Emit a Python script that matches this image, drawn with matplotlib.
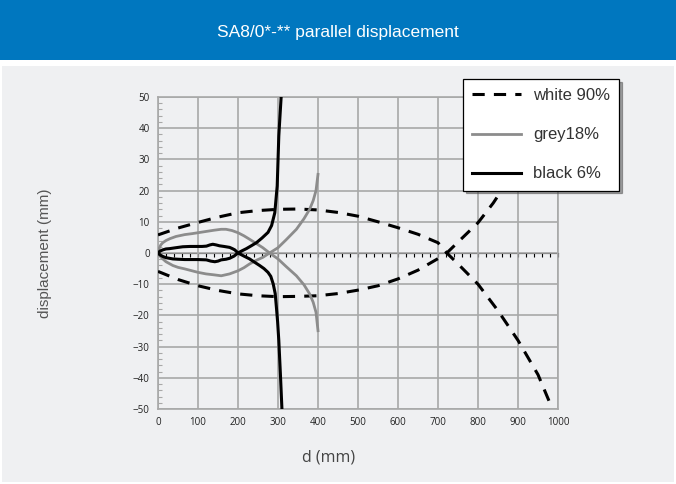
import matplotlib
matplotlib.use("Agg")
import matplotlib.pyplot as plt
from matplotlib.patches import Rectangle
from matplotlib.ticker import MultipleLocator, NullFormatter

# ---- data ----
white_d_up = [0, 50, 100, 150, 200, 250, 300, 350, 400, 450, 500, 550, 600, 650, 700, 722, 750, 800, 850, 900, 950, 986]
white_up = [5.8, 8.0, 9.8, 11.5, 12.9, 13.6, 14.0, 14.1, 13.8, 13.0, 11.8, 10.0, 8.1, 6.0, 3.3, 0.0, -3.5, -10.0, -18.5, -28.0, -39.0, -50.0]
white_d_lo = [0, 50, 100, 150, 200, 250, 300, 350, 400, 450, 500, 550, 600, 650, 700, 722, 750, 800, 838, 900, 950, 986]
white_lo = [-5.9, -8.5, -10.5, -12.0, -13.1, -13.7, -14.0, -13.9, -13.7, -13.0, -11.9, -10.5, -8.3, -5.5, -1.8, 0.0, 3.5, 9.7, 16.0, 28.0, 39.0, 50.0]

grey_d_up = [0, 3, 7, 12, 20, 30, 45, 67, 85, 100, 120, 140, 158, 170, 185, 200, 215, 229, 245, 262, 279, 300, 320, 346, 365, 379, 388, 395, 400]
grey_up = [0, 1.5, 2.6, 3.3, 4.0, 4.6, 5.3, 5.9, 6.2, 6.5, 6.9, 7.3, 7.6, 7.6, 7.2, 6.5, 5.5, 4.4, 3.1, 1.7, 0, -1.9, -4.3, -7.3, -10.2, -13.1, -15.8, -19.0, -24.9]
grey_d_lo = [0, 5, 12, 20, 37, 50, 67, 85, 100, 120, 140, 158, 179, 200, 215, 229, 245, 262, 279, 300, 320, 346, 365, 379, 388, 395, 400]
grey_lo = [0, -1.0, -1.9, -2.8, -4.0, -4.6, -5.1, -5.7, -6.2, -6.7, -7.0, -7.3, -6.7, -5.7, -4.7, -3.5, -2.4, -1.4, 0, 1.7, 4.2, 7.6, 11.0, 14.0, 16.8, 20.0, 25.2]

black_d_a = [0, 5, 12, 20, 29, 45, 62, 80, 96, 110, 121, 130, 137, 145, 154, 165, 179, 186, 192, 200, 215, 229, 242, 254, 265, 275, 282, 288, 293, 296, 299, 302, 306, 310]
black_a = [0, 0.6, 1.0, 1.3, 1.4, 1.7, 2.0, 2.1, 2.1, 2.1, 2.2, 2.6, 2.8, 2.6, 2.3, 2.1, 1.8, 1.4, 1.0, 0, -1.0, -1.9, -3.0, -4.0, -5.0, -6.2, -7.5, -9.9, -13.0, -17.4, -22.0, -28.0, -38.8, -50.5]
black_d_b = [0, 5, 12, 20, 37, 50, 67, 85, 100, 121, 132, 142, 150, 158, 170, 179, 190, 200, 210, 221, 233, 246, 260, 275, 284, 292, 298, 302, 305, 308]
black_b = [0, -0.6, -1.1, -1.5, -1.9, -2.0, -2.1, -2.1, -2.1, -2.2, -2.6, -2.8, -2.6, -2.2, -2.0, -1.7, -1.0, 0, 0.7, 1.4, 2.3, 3.3, 4.8, 6.6, 8.8, 12.9, 21.5, 37.5, 44.0, 50.3]

series_labels = ["white 90%", "grey18%", "black 6%"]
title = "SA8/0*-** parallel displacement"

W, H = 676, 484
BG = "#eff0f2"
BLUE = "#0077bf"

fig = plt.figure(figsize=(W / 100, H / 100), dpi=100)
fig.patch.set_facecolor("white")

# banner and background
fig.add_artist(Rectangle((0, 1 - 60 / H), 1, 60 / H, transform=fig.transFigure, facecolor=BLUE, edgecolor="none", zorder=0))
fig.add_artist(Rectangle((2 / W, 2 / H), 1 - 4 / W, (H - 66 - 2) / H, transform=fig.transFigure, facecolor=BG, edgecolor="none", zorder=0))
fig.text(0.5, 1 - 33 / H, title, color="white", ha="center", va="center",
         fontsize=12.5, family="Liberation Sans")

ax = fig.add_axes([158 / W, (H - 409) / H, 400 / W, 312 / H])
ax.set_facecolor(BG)
ax.set_xlim(0, 1000)
ax.set_ylim(-50, 50)
ax.xaxis.set_major_locator(MultipleLocator(100))
ax.yaxis.set_major_locator(MultipleLocator(10))
ax.yaxis.set_minor_locator(MultipleLocator(2))
ax.grid(True, which="major", color="#a8a8a8", linewidth=1.2, zorder=0)
for s in ax.spines.values():
    s.set_color("#a8a8a8")
    s.set_linewidth(1.2)
ax.tick_params(axis="both", which="major", length=0, labelsize=7, labelcolor="#222222", pad=6)
ax.tick_params(axis="y", which="minor", direction="in", length=3, color="#a8a8a8", width=0.8)
for lab in ax.get_xticklabels() + ax.get_yticklabels():
    lab.set_family("Open Sans")

# zero axis with minor ticks
sec = ax.secondary_xaxis(0.5)
sec.spines["bottom"].set_color("black")
sec.spines["bottom"].set_linewidth(1.0)
sec.xaxis.set_major_locator(MultipleLocator(20))
sec.xaxis.set_major_formatter(NullFormatter())
sec.tick_params(axis="x", direction="in", length=3, width=0.8, color="black",
                labelbottom=False, labeltop=False)

lw = 2.2
dash = (0, (4.0, 3.0))
ax.plot(white_d_up, white_up, color="black", lw=lw, linestyle=dash, zorder=3, label=series_labels[0])
ax.plot(white_d_lo, white_lo, color="black", lw=lw, linestyle=dash, zorder=3)
ax.plot(grey_d_up, grey_up, color="#8c8c8c", lw=2.0, zorder=3, label=series_labels[1], solid_joinstyle="round")
ax.plot(grey_d_lo, grey_lo, color="#8c8c8c", lw=2.0, zorder=3, solid_joinstyle="round")
ax.plot(black_d_a, black_a, color="black", lw=lw, zorder=4, label=series_labels[2], solid_joinstyle="round")
ax.plot(black_d_b, black_b, color="black", lw=lw, zorder=4, solid_joinstyle="round")

fig.text(45 / W, 1 - 253 / H, "displacement (mm)", rotation=90, ha="center", va="center",
         fontsize=11, color="#555555", family="Liberation Sans")
fig.text(329 / W, 1 - 457 / H, "d (mm)", ha="center", va="center",
         fontsize=11.5, color="#444444", family="Open Sans")

handles, labels = ax.get_legend_handles_labels()
leg = fig.legend(handles, labels, loc="upper left", bbox_to_anchor=(463 / W, 1 - 79 / H),
                 bbox_transform=fig.transFigure, frameon=True, fancybox=False, shadow=True,
                 edgecolor="black", facecolor="white", framealpha=1,
                 labelspacing=1.45, handlelength=2.9, handletextpad=0.75, borderpad=0.55,
                 borderaxespad=0, prop={"family": "Liberation Sans", "size": 12})
leg.get_frame().set_linewidth(0.9)
for t in leg.get_texts():
    t.set_color("#333333")
leg.set_zorder(10)

fig.savefig("out.png", dpi=100, facecolor=fig.get_facecolor())
